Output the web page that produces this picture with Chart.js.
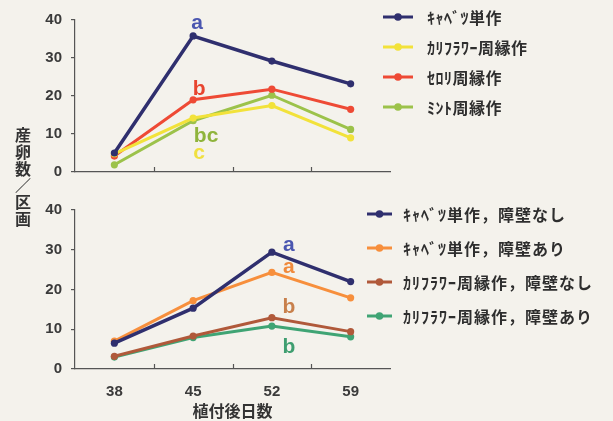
<!DOCTYPE html>
<html>
<head>
<meta charset="utf-8">
<script src="https://cdn.jsdelivr.net/npm/chart.js@4/dist/chart.umd.min.js"></script>
<style>
  html, body { margin: 0; padding: 0; background: #f4f2ec; }
  #wrap { position: relative; width: 613px; height: 421px; overflow: hidden; background: #f4f2ec; }
  #wrap canvas { position: absolute; left: 0; }
  #ytitle {
    position: absolute; left: 14px; top: 126px; width: 18px;
    font: bold 16px "Noto Sans CJK JP", sans-serif; line-height: 16.8px;
    color: #333; text-align: center; word-break: break-all; line-break: anywhere;
  }
</style>
</head>
<body>
<div id="wrap">
  <canvas id="upper" width="613" height="190" style="top:0"></canvas>
  <canvas id="lower" width="613" height="231" style="top:190px"></canvas>
  <div id="ytitle">産卵数／区画</div>
</div>
<script>
// Days after planting (shared x categories)
const days = ['38', '45', '52', '59'];

// Upper panel: eggs per plot, by cropping pattern
const upperLabels = ['ｷｬﾍﾞﾂ単作', 'ｶﾘﾌﾗﾜｰ周縁作', 'ｾﾛﾘ周縁作', 'ﾐﾝﾄ周縁作'];
const cabbageMono     = [5.0, 35.8, 29.2, 23.2];
const cauliflowerEdge = [4.8, 14.2, 17.5, 9.0];
const celeryEdge      = [4.2, 19.0, 21.8, 16.5];
const mintEdge        = [1.9, 13.5, 20.2, 11.2];
const upperLetters    = ['a', 'c', 'b', 'bc'];   // significance at day 45

// Lower panel: with / without barrier
const lowerLabels = ['ｷｬﾍﾞﾂ単作，障壁なし', 'ｷｬﾍﾞﾂ単作，障壁あり', 'ｶﾘﾌﾗﾜｰ周縁作，障壁なし', 'ｶﾘﾌﾗﾜｰ周縁作，障壁あり'];
const cabbageNoBarrier = [6.5, 15.3, 29.4, 22.0];
const cabbageBarrier   = [7.0, 17.2, 24.3, 17.9];
const cauliNoBarrier   = [3.2, 8.3, 12.9, 9.4];
const cauliBarrier     = [3.0, 7.9, 10.8, 8.1];
const lowerLetters     = ['a', 'a', 'b', 'b'];   // significance at day 52

const yMin = 0, yMax = 40, yStep = 10;

const AXIS = '#555';
const TEXT = '#3a3a3a';
const tickFont = { family: "'Liberation Sans', Arial, sans-serif", size: 15, weight: 'bold' };

// short tick marks pointing into the plot, between categories
const innerTicks = {
  id: 'innerTicks',
  afterDraw(chart) {
    const x = chart.scales.x, ctx = chart.ctx, b = chart.chartArea.bottom;
    ctx.save();
    ctx.strokeStyle = AXIS; ctx.lineWidth = 1.2;
    for (let i = 1; i < x.ticks.length; i++) {
      const px = Math.round((x.getPixelForValue(i - 1) + x.getPixelForValue(i)) / 2) + 0.5;
      ctx.beginPath(); ctx.moveTo(px, b); ctx.lineTo(px, b - 5); ctx.stroke();
    }
    ctx.restore();
  }
};

// letter marks next to one point of each series
const letterMarks = {
  id: 'letterMarks',
  afterDatasetsDraw(chart, args, opts) {
    const ctx = chart.ctx;
    ctx.save();
    ctx.font = "bold 21px 'Liberation Sans', Arial, sans-serif";
    ctx.textAlign = 'center'; ctx.textBaseline = 'middle';
    opts.items.forEach((it, i) => {
      const pt = chart.getDatasetMeta(i).data[opts.index];
      ctx.fillStyle = it.color;
      ctx.fillText(it.text, pt.x + it.dx, pt.y + it.dy);
    });
    ctx.restore();
  }
};

// legend: line with dot, then label
const sideLegend = {
  id: 'sideLegend',
  afterDraw(chart, args, o) {
    const ctx = chart.ctx;
    ctx.save();
    chart.data.datasets.forEach((ds, i) => {
      const y = o.y0 + i * o.dy;
      ctx.strokeStyle = ds.borderColor; ctx.lineWidth = 3;
      ctx.beginPath(); ctx.moveTo(o.lineX, y); ctx.lineTo(o.lineX + o.lineLen, y); ctx.stroke();
      ctx.fillStyle = ds.borderColor;
      ctx.beginPath(); ctx.arc(o.lineX + o.lineLen / 2, y, 3.8, 0, Math.PI * 2); ctx.fill();
      ctx.fillStyle = '#2e2e2e';
      ctx.font = o.font; ctx.textAlign = 'left'; ctx.textBaseline = 'middle';
      ctx.letterSpacing = o.spacing;
      ctx.fillText(ds.label, o.textX, y + 1);
    });
    ctx.restore();
  }
};

function series(label, data, color, width) {
  return {
    label, data,
    borderColor: color, backgroundColor: color,
    borderWidth: width || 3, tension: 0,
    pointRadius: 3.6, pointHoverRadius: 3.6, pointBorderWidth: 0,
    pointBackgroundColor: color, clip: false
  };
}

function panel(canvas, datasets, letters, letterIndex, legend, withLabels) {
  const h = canvas.height;
  return new Chart(canvas, {
    type: 'line',
    data: { labels: days, datasets },
    options: {
      responsive: false, animation: false, devicePixelRatio: 1, events: [],
      layout: { padding: { left: 0, right: 223, top: 20, bottom: 0 } },
      plugins: {
        legend: { display: false }, tooltip: { enabled: false },
        letterMarks: { items: letters, index: letterIndex },
        sideLegend: legend
      },
      scales: {
        x: {
          type: 'category', offset: true,
          grid: { display: false, drawTicks: false },
          border: { display: true, color: AXIS, width: 1.2 },
          ticks: { display: withLabels, font: tickFont, color: TEXT, padding: 14 },
          title: {
            display: withLabels, text: '植付後日数', color: '#333',
            font: { family: "'Noto Sans CJK JP', sans-serif", size: 16, weight: 'bold' },
            padding: { top: 0, bottom: 0 }
          },
          afterFit(s) { s.height = h - 179; }
        },
        y: {
          min: yMin, max: yMax,
          ticks: { stepSize: yStep, font: tickFont, color: TEXT, padding: 9 },
          grid: { display: true, drawOnChartArea: false, drawTicks: true, tickLength: 4, color: AXIS, lineWidth: 1.2 },
          border: { display: true, color: AXIS, width: 1.2 },
          afterFit(s) { s.width = 75; }
        }
      }
    },
    plugins: [innerTicks, letterMarks, sideLegend]
  });
}

panel(document.getElementById('upper'), [
    series(upperLabels[0], cabbageMono, '#2f2f6e', 3.5),
    series(upperLabels[1], cauliflowerEdge, '#f2e23a'),
    series(upperLabels[2], celeryEdge, '#ee4a35'),
    series(upperLabels[3], mintEdge, '#9cc24a')
  ], [
    { text: upperLetters[0], color: '#4a56b0', dx: 4, dy: -13 },
    { text: upperLetters[1], color: '#f0e040', dx: 6, dy: 35 },
    { text: upperLetters[2], color: '#e8452f', dx: 6, dy: -11 },
    { text: upperLetters[3], color: '#8fb43c', dx: 13, dy: 16 }
  ], 1,
  { lineX: 383, lineLen: 30, textX: 427, y0: 17, dy: 30, font: "bold 16px 'Noto Sans CJK JP', sans-serif", spacing: '0.5px' },
  false);

panel(document.getElementById('lower'), [
    series(lowerLabels[0], cabbageNoBarrier, '#2f2f6e', 3.5),
    series(lowerLabels[1], cabbageBarrier, '#f78f3c'),
    series(lowerLabels[2], cauliNoBarrier, '#b0593a'),
    series(lowerLabels[3], cauliBarrier, '#3fa474')
  ], [
    { text: lowerLetters[0], color: '#4a56b0', dx: 17, dy: -7 },
    { text: lowerLetters[1], color: '#f08a3c', dx: 17, dy: -5 },
    { text: lowerLetters[2], color: '#c8804c', dx: 17, dy: -11 },
    { text: lowerLetters[3], color: '#3f9e70', dx: 17, dy: 21 }
  ], 2,
  { lineX: 367, lineLen: 25, textX: 403, y0: 24, dy: 34, font: "bold 16px 'Noto Sans CJK JP', sans-serif", spacing: '1px' },
  true);
</script>
</body>
</html>
